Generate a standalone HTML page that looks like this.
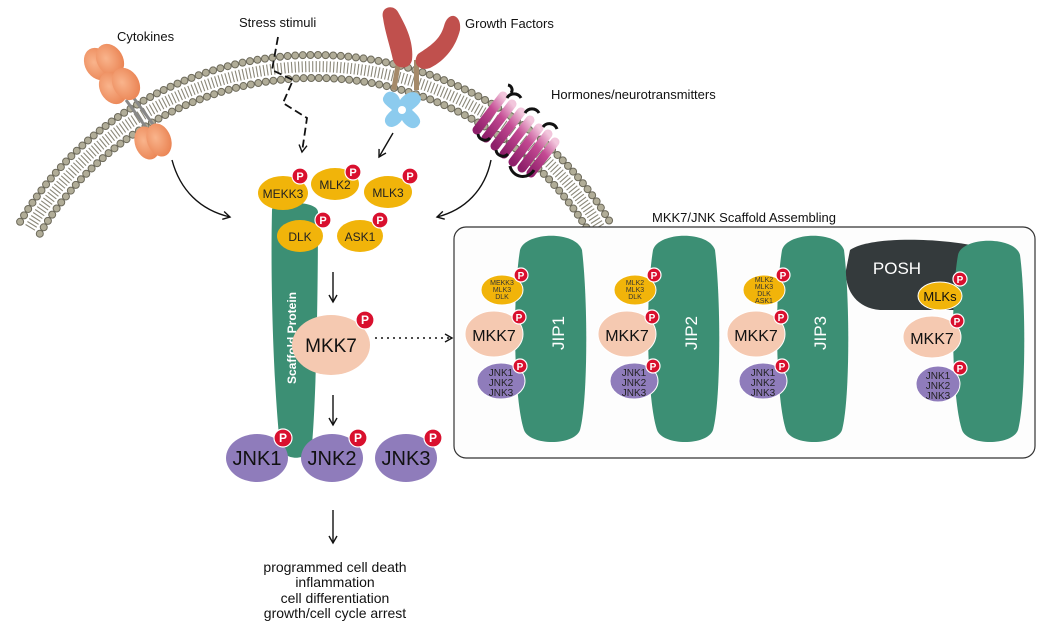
<!DOCTYPE html>
<html><head><meta charset="utf-8"><style>
html,body{margin:0;padding:0;background:#fff;}
svg{display:block;font-family:"Liberation Sans",Arial,sans-serif;}
</style></head><body>
<svg width="1041" height="629" viewBox="0 0 1041 629" xmlns="http://www.w3.org/2000/svg">
<defs>
<marker id="ah" markerWidth="10" markerHeight="10" refX="8" refY="5" orient="auto" markerUnits="userSpaceOnUse">
<path d="M1,1 L8,5 L1,9" fill="none" stroke="#111" stroke-width="1.4"/></marker>
<linearGradient id="pg" x1="0" y1="1" x2="1" y2="0"><stop offset="0" stop-color="#8e1f6a"/><stop offset="0.6" stop-color="#c44a93"/><stop offset="1" stop-color="#f2c6dc"/></linearGradient>
<radialGradient id="og" cx="0.4" cy="0.4" r="0.7"><stop offset="0" stop-color="#f9b48c"/><stop offset="1" stop-color="#e9804f"/></radialGradient>
</defs>

<!-- membrane -->
<g transform="translate(0,-1)">
<path d="M30.0,228.8 A332.5,332.5 0 0 1 600.9,230.3" fill="none" stroke="#8a8778" stroke-width="11" stroke-dasharray="1.1 2.4"/>
<path d="M20.1,222.8 A344,344 0 0 1 610.8,224.4" fill="none" stroke="#6d6a5b" stroke-width="8" stroke-linecap="round" stroke-dasharray="0 7.6"/>
<path d="M20.1,222.8 A344,344 0 0 1 610.8,224.4" fill="none" stroke="#b1ad98" stroke-width="6" stroke-linecap="round" stroke-dasharray="0 7.6"/>
<path d="M39.8,234.7 A321,321 0 0 1 591.0,236.1" fill="none" stroke="#6d6a5b" stroke-width="8" stroke-linecap="round" stroke-dasharray="0 7.6"/>
<path d="M39.8,234.7 A321,321 0 0 1 591.0,236.1" fill="none" stroke="#b1ad98" stroke-width="6" stroke-linecap="round" stroke-dasharray="0 7.6"/>
</g>

<!-- cytokine receptor -->
<line x1="126" y1="100" x2="148" y2="130" stroke="#888" stroke-width="3"/>
<line x1="133" y1="97" x2="155" y2="127" stroke="#888" stroke-width="3"/>
<ellipse cx="98" cy="64" rx="13" ry="17" fill="url(#og)" transform="rotate(-30 98 64)"/>
<ellipse cx="110" cy="60" rx="13" ry="17" fill="url(#og)" transform="rotate(-30 110 60)"/>
<ellipse cx="113" cy="88" rx="13" ry="17" fill="url(#og)" transform="rotate(-30 113 88)"/>
<ellipse cx="126" cy="84" rx="13" ry="17" fill="url(#og)" transform="rotate(-30 126 84)"/>
<ellipse cx="147" cy="143" rx="12" ry="17" fill="url(#og)" transform="rotate(-20 147 143)"/>
<ellipse cx="159" cy="140" rx="12" ry="17" fill="url(#og)" transform="rotate(-20 159 140)"/>

<!-- growth factor receptor -->
<rect x="394" y="58" width="5" height="32" fill="#a58a6a" transform="rotate(10 396 74)"/>
<rect x="414" y="60" width="5" height="30" fill="#a58a6a"/>
<path d="M383,18 C380,6 394,4 398,12 C406,26 414,42 412,60 C410,70 396,70 393,60 C390,46 385,32 383,18 Z" fill="#c0504d"/>
<path d="M444,26 C448,10 462,14 460,30 C456,46 446,60 430,68 C418,72 412,62 418,54 C430,46 440,40 444,26 Z" fill="#c0504d"/>
<path d="M384,96 C388,88 398,92 400,100 C404,94 414,88 420,96 C424,102 414,108 412,110 C416,114 424,120 418,126 C412,132 404,124 402,120 C398,126 390,130 386,124 C382,118 390,112 392,110 C388,106 380,102 384,96 Z" fill="#8ccbee"/>
<circle cx="402" cy="110" r="4" fill="#fff"/>

<!-- hormone receptor -->
<g stroke-linecap="round" stroke-width="9" fill="none">
<line x1="477" y1="130" x2="503" y2="96" stroke="url(#pg)"/>
<line x1="486" y1="138" x2="512" y2="104" stroke="url(#pg)"/>
<line x1="495" y1="146" x2="521" y2="112" stroke="url(#pg)"/>
<line x1="504" y1="154" x2="530" y2="120" stroke="url(#pg)"/>
<line x1="513" y1="162" x2="539" y2="128" stroke="url(#pg)"/>
<line x1="522" y1="168" x2="548" y2="134" stroke="url(#pg)"/>
<line x1="531" y1="173" x2="555" y2="142" stroke="url(#pg)"/>
</g>
<g fill="none" stroke="#111" stroke-width="3">
<path d="M508,85 a5,5 0 0 1 3,8"/>
<path d="M507,98 a8,8 0 0 1 14,0"/>
<path d="M525,113 a8,8 0 0 1 14,0"/>
<path d="M543,127 a8,8 0 0 1 14,2"/>
<path d="M478,134 a7,7 0 0 0 12,4"/>
<path d="M496,150 a7,7 0 0 0 12,4"/>
<path d="M510,166 a13,13 0 0 0 24,4"/>
</g>

<!-- labels top -->
<g font-size="13" fill="#111">
<text x="117" y="41">Cytokines</text>
<text x="239" y="27">Stress stimuli</text>
<text x="465" y="28">Growth Factors</text>
<text x="551" y="99">Hormones/neurotransmitters</text>
<text x="652" y="222">MKK7/JNK Scaffold Assembling</text>
</g>

<!-- arrows top -->
<path d="M278,37 L272,70 L293,80 L283,103 L307,118 L302,152" fill="none" stroke="#111" stroke-width="1.8" stroke-dasharray="8 4" marker-end="url(#ah)"/>
<path d="M172,160 C180,190 200,210 230,217" fill="none" stroke="#111" stroke-width="1.4" marker-end="url(#ah)"/>
<path d="M491,160 C485,190 465,210 437,217" fill="none" stroke="#111" stroke-width="1.4" marker-end="url(#ah)"/>
<line x1="393" y1="133" x2="379" y2="157" stroke="#111" stroke-width="1.4" marker-end="url(#ah)"/>

<!-- scaffold -->
<path d="M272,210 C272,200 318,200 318,212 C318,300 316,400 312,445 C310,462 282,462 280,445 C275,400 270,300 272,210 Z" fill="#3c8f74"/>
<text transform="translate(296,338) rotate(-90)" text-anchor="middle" font-size="12" font-weight="bold" fill="#fff">Scaffold Protein</text>

<!-- MAP3Ks -->
<g font-size="12" fill="#222" text-anchor="middle">
<ellipse cx="283" cy="193" rx="25" ry="17" fill="#f1b40a"/><text x="283" y="198">MEKK3</text>
<ellipse cx="335" cy="184" rx="24" ry="16" fill="#f1b40a"/><text x="335" y="189">MLK2</text>
<ellipse cx="388" cy="192" rx="24" ry="16" fill="#f1b40a"/><text x="388" y="197">MLK3</text>
<ellipse cx="300" cy="236" rx="23" ry="16" fill="#f1b40a"/><text x="300" y="241">DLK</text>
<ellipse cx="360" cy="236" rx="23" ry="16" fill="#f1b40a"/><text x="360" y="241">ASK1</text>
</g>

<!-- MKK7 / JNK -->
<line x1="333" y1="272" x2="333" y2="302" stroke="#111" stroke-width="1.4" marker-end="url(#ah)"/>
<ellipse cx="331" cy="345" rx="39" ry="30" fill="#f5c9b1"/>
<text x="331" y="352" text-anchor="middle" font-size="19" fill="#111">MKK7</text>
<line x1="375" y1="338" x2="452" y2="338" stroke="#111" stroke-width="1.4" stroke-dasharray="2 4" marker-end="url(#ah)"/>
<line x1="333" y1="395" x2="333" y2="425" stroke="#111" stroke-width="1.4" marker-end="url(#ah)"/>
<g font-size="20" fill="#111" text-anchor="middle">
<ellipse cx="257" cy="458" rx="31" ry="24" fill="#8f7cbb"/><text x="257" y="465">JNK1</text>
<ellipse cx="332" cy="458" rx="31" ry="24" fill="#8f7cbb"/><text x="332" y="465">JNK2</text>
<ellipse cx="406" cy="458" rx="31" ry="24" fill="#8f7cbb"/><text x="406" y="465">JNK3</text>
</g>
<line x1="333" y1="510" x2="333" y2="543" stroke="#111" stroke-width="1.4" marker-end="url(#ah)"/>
<g font-size="14" fill="#111" text-anchor="middle">
<text x="335" y="572">programmed cell death</text>
<text x="335" y="587">inflammation</text>
<text x="335" y="603">cell differentiation</text>
<text x="335" y="618">growth/cell cycle arrest</text>
</g>

<!-- box -->
<rect x="454" y="227" width="581" height="231" rx="12" fill="#fdfdfd" stroke="#333" stroke-width="1.2"/>

<!-- panels -->
<g id="p1">
<path d="M520,250 C525,232 575,230 582,250 C588,300 588,400 580,430 C574,446 530,446 524,430 C514,400 512,300 520,250 Z" fill="#3c8f74"/>
<ellipse cx="502" cy="290" rx="21" ry="15" fill="#f1b40a" stroke="#fff" stroke-width="1"/>
<ellipse cx="494" cy="334" rx="29" ry="23" fill="#f5c9b1" stroke="#fff" stroke-width="1"/>
<ellipse cx="501" cy="381" rx="24" ry="18" fill="#8f7cbb" stroke="#fff" stroke-width="1"/>
<text x="494" y="341" text-anchor="middle" font-size="16" fill="#111">MKK7</text>
<g font-size="10" fill="#222" text-anchor="middle"><text x="501" y="376">JNK1</text><text x="501" y="386">JNK2</text><text x="501" y="396">JNK3</text></g>
</g>
<use href="#p1" x="133"/>
<use href="#p1" x="262"/>
<g font-size="7" fill="#333" text-anchor="middle">
<text x="502" y="285">MEKK3</text><text x="502" y="292">MLK3</text><text x="502" y="299">DLK</text>
<text x="635" y="285">MLK2</text><text x="635" y="292">MLK3</text><text x="635" y="299">DLK</text>
<text x="764" y="282">MLK2</text><text x="764" y="289">MLK3</text><text x="764" y="296">DLK</text><text x="764" y="303">ASK1</text>
</g>
<g font-size="17" fill="#fff" text-anchor="middle">
<text transform="translate(564,333) rotate(-90)">JIP1</text>
<text transform="translate(697,333) rotate(-90)">JIP2</text>
<text transform="translate(826,333) rotate(-90)">JIP3</text>
<text transform="translate(1004,333) rotate(-90)">JIPs</text>
</g>

<!-- JIPs panel -->
<path d="M850,250 C870,236 940,238 975,246 L975,310 L880,310 C856,308 845,290 846,270 Z" fill="#343a3c"/>
<path d="M958,255 C962,236 1015,236 1020,255 C1026,300 1026,400 1018,430 C1012,446 968,446 962,430 C952,400 950,300 958,255 Z" fill="#3c8f74"/>
<text x="897" y="274" text-anchor="middle" font-size="17" fill="#fff">POSH</text>
<ellipse cx="940" cy="296" rx="22" ry="14" fill="#f1b40a" stroke="#fff" stroke-width="1"/>
<text x="940" y="301" text-anchor="middle" font-size="13" fill="#111">MLKs</text>
<ellipse cx="932" cy="337" rx="29" ry="21" fill="#f5c9b1" stroke="#fff" stroke-width="1"/>
<text x="932" y="344" text-anchor="middle" font-size="16" fill="#111">MKK7</text>
<ellipse cx="938" cy="384" rx="22" ry="18" fill="#8f7cbb" stroke="#fff" stroke-width="1"/>
<g font-size="10" fill="#222" text-anchor="middle"><text x="938" y="379">JNK1</text><text x="938" y="389">JNK2</text><text x="938" y="399">JNK3</text></g>

<!-- P badges -->
<g fill="#d9102e" stroke="#fff" stroke-width="1.2">
<circle cx="300" cy="176" r="8"/><circle cx="353" cy="172" r="8"/><circle cx="410" cy="176" r="8"/>
<circle cx="323" cy="220" r="8"/><circle cx="380" cy="220" r="8"/>
<circle cx="365" cy="320" r="9"/>
<circle cx="283" cy="438" r="9"/><circle cx="358" cy="438" r="9"/><circle cx="433" cy="438" r="9"/>
<circle cx="521" cy="275" r="7"/><circle cx="519" cy="317" r="7"/><circle cx="520" cy="366" r="7"/>
<circle cx="654" cy="275" r="7"/><circle cx="652" cy="317" r="7"/><circle cx="653" cy="366" r="7"/>
<circle cx="783" cy="275" r="7"/><circle cx="781" cy="317" r="7"/><circle cx="782" cy="366" r="7"/>
<circle cx="960" cy="279" r="7"/><circle cx="957" cy="321" r="7"/><circle cx="960" cy="368" r="7"/>
</g>
<g fill="#fff" font-weight="bold" text-anchor="middle">
<g font-size="11">
<text x="300" y="180">P</text><text x="353" y="176">P</text><text x="410" y="180">P</text>
<text x="323" y="224">P</text><text x="380" y="224">P</text>
</g>
<g font-size="12">
<text x="365" y="324">P</text><text x="283" y="442">P</text><text x="358" y="442">P</text><text x="433" y="442">P</text>
</g>
<g font-size="10">
<text x="521" y="279">P</text><text x="519" y="321">P</text><text x="520" y="370">P</text>
<text x="654" y="279">P</text><text x="652" y="321">P</text><text x="653" y="370">P</text>
<text x="783" y="279">P</text><text x="781" y="321">P</text><text x="782" y="370">P</text>
<text x="960" y="283">P</text><text x="957" y="325">P</text><text x="960" y="372">P</text>
</g>
</g>
</svg>
</body></html>
